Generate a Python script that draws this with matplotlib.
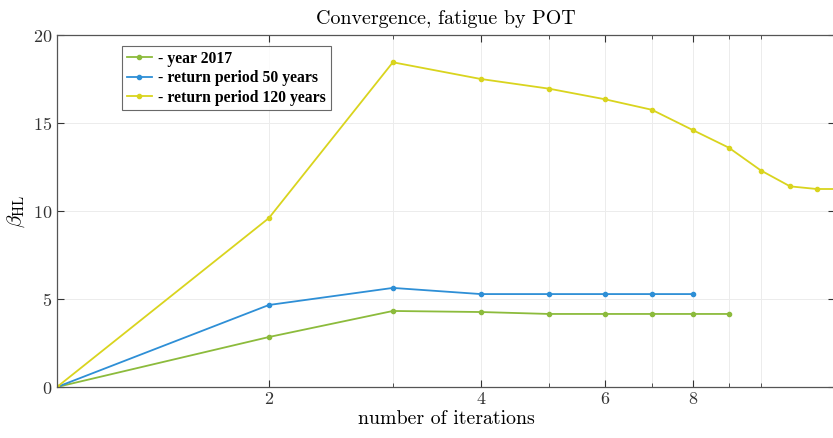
import matplotlib
matplotlib.use("Agg")
import matplotlib.pyplot as plt
from matplotlib.ticker import FixedLocator, NullFormatter

# data
it_2017 = [1, 2, 3, 4, 5, 6, 7, 8, 9]
beta_2017 = [0, 2.84, 4.32, 4.26, 4.15, 4.15, 4.15, 4.15, 4.15]

it_50 = [1, 2, 3, 4, 5, 6, 7, 8]
beta_50 = [0, 4.66, 5.63, 5.28, 5.28, 5.28, 5.28, 5.28]

it_120 = [1, 2, 3, 4, 5, 6, 7, 8, 9, 10, 11, 12, 13]
beta_120 = [0, 9.6, 18.45, 17.5, 16.95, 16.35, 15.75, 14.6, 13.6, 12.3, 11.4, 11.25, 11.25]

labels = ["- year 2017", "- return period 50 years", "- return period 120 years"]
colors = ["#8cbb3c", "#2e8fd6", "#d9d41e"]

plt.rcParams["mathtext.fontset"] = "cm"
plt.rcParams["font.family"] = ["cmr10", "DejaVu Serif"]
plt.rcParams["axes.formatter.use_mathtext"] = True

fig = plt.figure(figsize=(8.33, 4.38), dpi=100)
ax = fig.add_axes([57 / 833, 1 - 387 / 438, 778 / 833, 352 / 438])

for xs, ys, lab, c in zip([it_2017, it_50, it_120], [beta_2017, beta_50, beta_120], labels, colors):
    ax.plot(xs, ys, "-", color=c, lw=1.3, marker="o", ms=3, mfc=c, mec=c, label=lab)

ax.set_xscale("log")
ax.set_xlim(1, 12.74)
ax.set_ylim(0, 20)
ax.xaxis.set_major_locator(FixedLocator([2, 4, 6, 8]))
ax.xaxis.set_minor_locator(FixedLocator([3, 5, 7, 9, 10]))
ax.xaxis.set_minor_formatter(NullFormatter())
ax.set_xticklabels(["2", "4", "6", "8"])
ax.set_yticks([0, 5, 10, 15, 20])

ax.grid(True, which="both", color="#ececec", lw=0.7)
ax.tick_params(which="both", direction="in", top=True, right=True, labelsize=13, colors="#333333")
ax.tick_params(which="major", length=5)
ax.tick_params(which="minor", length=3)
for s in ax.spines.values():
    s.set_color("#555555")
    s.set_linewidth(0.9)

ax.set_title("Convergence, fatigue by POT", fontsize=14.4, pad=8)
ax.set_xlabel("number of iterations", fontsize=14.3, labelpad=2)
ax.set_ylabel(r"$\beta_{\rm HL}$", fontsize=15, labelpad=4)

leg = ax.legend(loc="upper left", bbox_to_anchor=((122 - 57) / 778, (387 - 46) / 352), borderaxespad=0,
                frameon=True, fancybox=False, edgecolor="#444444", handlelength=1.6, handletextpad=0.4,
                borderpad=0.3, labelspacing=0.22,
                prop={"family": "Liberation Serif", "weight": "bold", "size": 11.3})
leg.get_frame().set_linewidth(0.8)

fig.savefig("out.png", dpi=100)
